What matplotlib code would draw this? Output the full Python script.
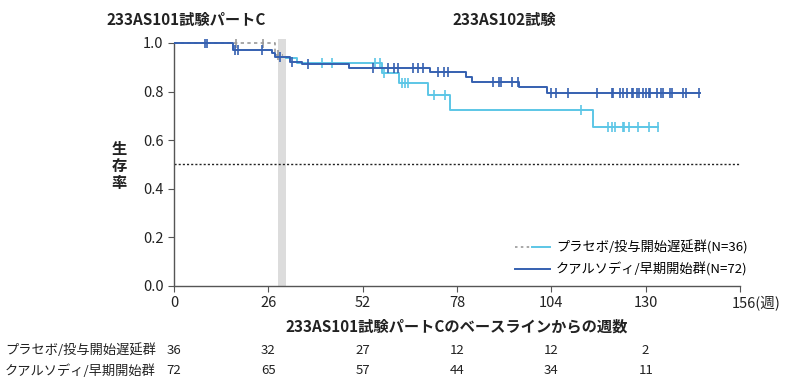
import numpy as np
import matplotlib
matplotlib.use("Agg")
import matplotlib.pyplot as plt
from matplotlib.lines import Line2D
from matplotlib.legend_handler import HandlerTuple

plt.rcParams['font.family'] = ['Noto Sans CJK JP', 'DejaVu Sans']

# placebo, part C (gray dashed) step curve
pc_t = [0, 27.8, 30.0]
pc_s = [1.0, 0.95, 0.95]
pc_cens_t = [17.1, 24.5, 28.7]
pc_cens_s = [1.0, 1.0, 0.95]

# placebo / delayed start, 102 study (light blue)
pl_t = [30.9, 33.8, 57.3, 62.0, 70.0, 76.1, 115.5, 133.3]
pl_s = [0.94, 0.916, 0.878, 0.834, 0.786, 0.726, 0.656, 0.656]
pl_cens_t = [40.8, 43.6, 55.4, 56.8, 57.9, 62.8, 63.7, 64.5, 71.7, 74.7, 112.1,
             119.7, 120.7, 121.6, 123.7, 124.1, 125.5, 128.0, 130.8, 133.3]

# qalsody / early start (dark blue)
ql_t = [0, 16.3, 26.9, 27.8, 32.0, 35.2, 48.1, 70.6, 80.5, 82.1, 95.2, 102.9, 145.0]
ql_s = [1.0, 0.971, 0.957, 0.944, 0.923, 0.912, 0.896, 0.882, 0.862, 0.841, 0.82, 0.796, 0.796]
ql_cens_t = [8.5, 9.0, 16.8, 17.7, 24.2, 29.2, 32.5, 36.9, 54.9, 59.1, 60.5, 61.8,
             66.0, 67.3, 68.7, 72.9, 74.3, 75.6, 87.9, 89.7, 90.1, 93.1, 94.9,
             103.9, 105.2, 108.7, 116.5, 120.7, 121.1, 123.0, 123.7, 124.8, 126.2,
             126.6, 127.6, 128.3, 129.2, 130.1, 130.8, 131.2, 133.1, 134.2, 134.7,
             136.6, 137.2, 140.3, 141.1, 144.6]

xticks = [0, 26, 52, 78, 104, 130, 156]
risk_rows = ['プラセボ/投与開始遅延群', 'クアルソディ/早期開始群']
risk_pl = [36, 32, 27, 12, 12, 2]
risk_ql = [72, 65, 57, 44, 34, 11]

dark = '#3560b0'
light = '#5cc6e6'
grayc = '#9a9a9a'


def surv_at(ts, ss, x):
    idx = np.searchsorted(ts, x, side='right') - 1
    return np.array(ss)[idx]


fig = plt.figure(figsize=(8, 3.86), dpi=100)
ax = fig.add_axes([0.2175, 0.2591, 0.7075, 0.639])

ax.axvspan(28.8, 30.9, color='#dcdcdc', lw=0, zorder=0)
ax.axhline(0.5, color='#222222', ls=(0, (1.5, 1.5)), lw=1.0, zorder=1)

ax.step(pc_t, pc_s, where='post', color=grayc, ls=(0, (2, 2)), lw=1.2, zorder=2)
ax.plot(pc_cens_t, pc_cens_s, ls='none', marker='|', ms=7, mew=1.2, color=grayc, zorder=2)

ax.step(pl_t, pl_s, where='post', color=light, lw=1.4, zorder=3)
ax.plot(pl_cens_t, surv_at(pl_t, pl_s, pl_cens_t), ls='none', marker='|', ms=7,
        mew=1.2, color=light, zorder=3)

ax.step(ql_t, ql_s, where='post', color=dark, lw=1.4, zorder=4)
ax.plot(ql_cens_t, surv_at(ql_t, ql_s, ql_cens_t), ls='none', marker='|', ms=7,
        mew=1.2, color=dark, zorder=4)

ax.set_xlim(0, 156)
ax.set_ylim(0, 1.015)
for s in ['top', 'right']:
    ax.spines[s].set_visible(False)
for s in ['left', 'bottom']:
    ax.spines[s].set_color('#555555')
    ax.spines[s].set_linewidth(1.0)
ax.spines['left'].set_bounds(0, 1)
ax.set_xticks(xticks)
ax.set_xticklabels([str(v) for v in xticks[:-1]] + ['156(週)'])
ax.set_yticks(np.arange(0, 1.01, 0.2))
ax.set_yticklabels(['%.1f' % v for v in np.arange(0, 1.01, 0.2)])
ax.tick_params(axis='both', labelsize=10.5, color='#555555', length=4, direction='out',
               labelcolor='#222222')
last = ax.get_xticklabels()[-1]
last.set_horizontalalignment('left')
last.set_transform(last.get_transform()
                   + matplotlib.transforms.ScaledTranslation(-6 / 72, 0, fig.dpi_scale_trans))

ax.set_xlabel('233AS101試験パートCのベースラインからの週数', fontsize=11, fontweight='bold',
              color='#222222', labelpad=5)
fig.text(0.149, 0.57, '生\n存\n率', fontsize=11, fontweight='bold', ha='center', va='center',
         linespacing=1.05, color='#222222')

fig.text(0.2325, 0.948, '233AS101試験パートC', fontsize=11, fontweight='bold', ha='center',
         va='center', color='#222222')
fig.text(0.631, 0.948, '233AS102試験', fontsize=11, fontweight='bold', ha='center',
         va='center', color='#222222')

h1 = (Line2D([], [], color=grayc, ls=(0, (1.5, 2)), lw=1.2), Line2D([], [], color=light, lw=1.4))
h2 = Line2D([], [], color=dark, lw=1.4)
ax.legend([h1, h2], ['プラセボ/投与開始遅延群(N=36)', 'クアルソディ/早期開始群(N=72)'],
          handler_map={tuple: HandlerTuple(ndivide=None, pad=0)}, loc='lower right',
          bbox_to_anchor=(1.03, 0.0), frameon=False, fontsize=9.5, handlelength=2.6,
          handletextpad=0.5, labelspacing=0.6, borderaxespad=0.3)

# number at risk table
for row, vals, ypos in [(risk_rows[0], risk_pl, 350), (risk_rows[1], risk_ql, 371)]:
    yf = 1 - ypos / 386
    fig.text(0.006, yf, row, fontsize=9.5, ha='left', va='center', color='#222222')
    for x, v in zip(xticks, vals):
        xd = ax.transData.transform((x, 0))[0]
        xf = fig.transFigure.inverted().transform((xd, 0))[0]
        fig.text(xf, yf, str(v), fontsize=9.5, ha='center', va='center', color='#222222')

fig.savefig('out.png', dpi=100)
